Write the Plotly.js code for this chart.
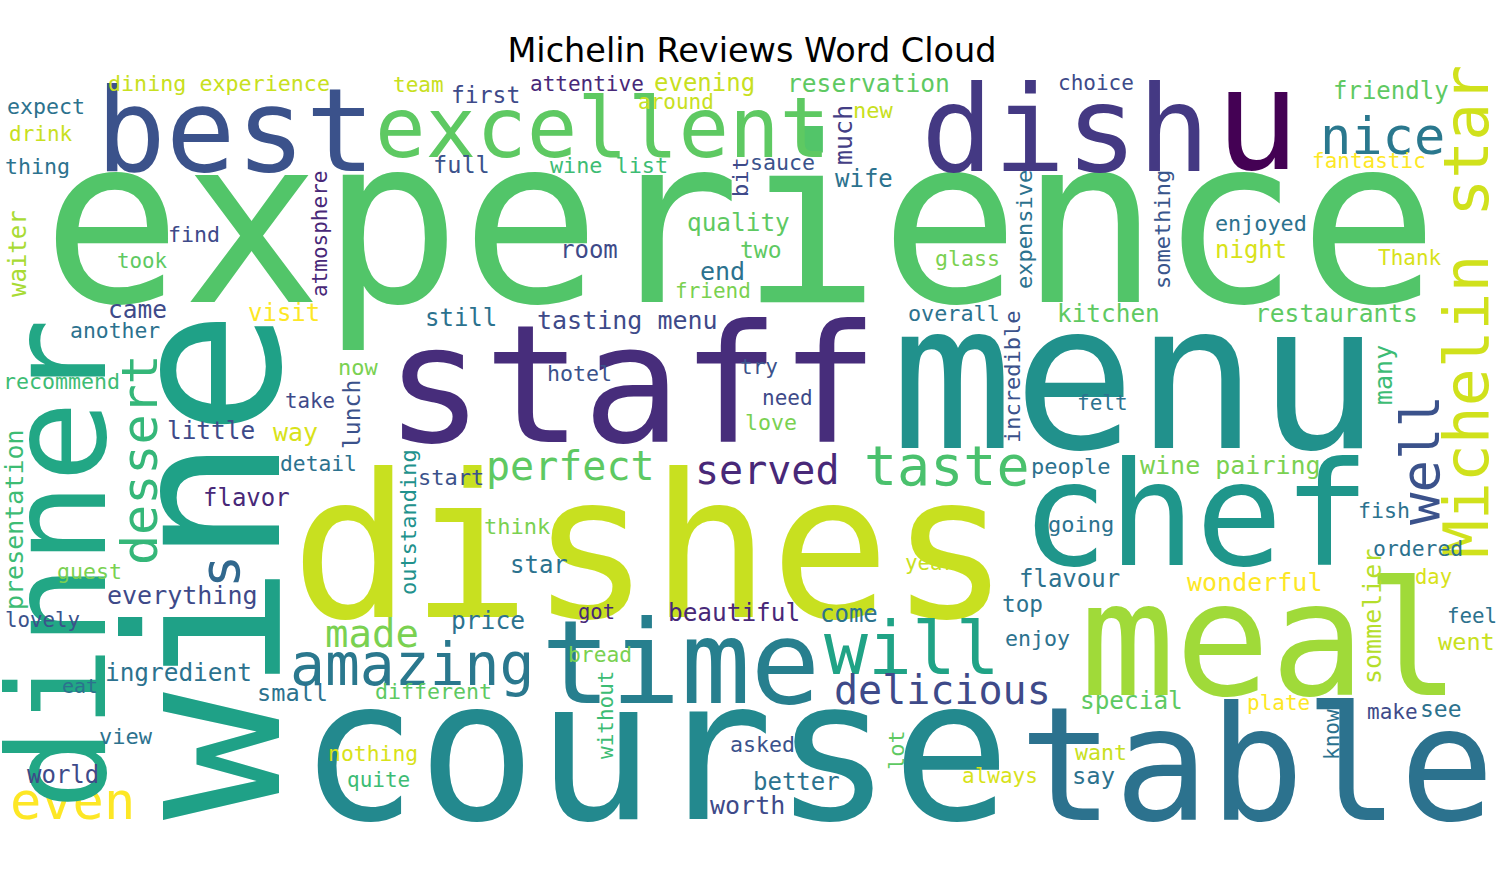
<!DOCTYPE html>
<html>
<head>
<meta charset="utf-8">
<script src="https://cdn.plot.ly/plotly-3.0.1.min.js"></script>
<style>body{margin:0;background:#fff}#chart{width:1504px;height:894px}</style>
</head>
<body>
<div id="chart"></div>
<script>
// word cloud: word, centre x, centre y (pixels), font size, angle, colour
const words = ['experience','staff','menu','dishes','course','table','meal','chef','time','dish','u','best','excellent','nice','will','amazing','delicious','perfect','served','taste','made','even','tasting menu',
  'wine','dinner','dessert','s','Michelin star','well','much','atmosphere','waiter','presentation','lunch','outstanding','bit','expensive','something','incredible','many','sommelier','without','lot','know',
  'dining experience','team','first','attentive','evening','around','reservation','choice','new','friendly','expect','drink','thing','full','wine list','sauce','wife','fantastic','find','took','quality','two','room','end','friend','enjoyed','night','glass','Thank','came','another','visit','still','overall','kitchen','restaurants','recommend','now','hotel','try','need','love','take','little','way','felt','detail','start','people','wine pairing','flavor','think','going','fish','ordered','star','year','guest','everything','flavour','wonderful','day','lovely','price','got','beautiful','come','top','feel','enjoy','went','bread','ingredient','eat','small','different','special','plate','make','see','view','asked','nothing','want','world','quite','better','always','say','worth'];
const xs = [740,632,1135,650,655,1257,1270,1195,680,1065,1257,235,602,1382,912,412,942,570,767,947,372,72,627,
  205,58,140,220,1466,1420,843,320,18,14,352,408,740,1024,1162,1012,1383,1372,606,896,1332,
  219,418,485,587,704,676,868,1096,873,1391,46,41,37,461,609,782,864,1369,194,142,738,761,589,722,713,1261,1251,967,1410,137,115,284,461,954,1108,1336,61,358,579,759,787,771,310,211,295,1102,318,451,1070,1230,246,517,1081,1384,1418,539,930,89,182,1069,1254,1433,42,488,596,734,849,1022,1472,1037,1466,600,178,80,292,433,1131,1278,1392,1441,126,762,373,1101,63,378,796,1000,1093,747];
const ys = [222,385,378,548,750,765,640,514,662,129,120,130,128,136,648,665,690,466,470,466,633,801,320,
  565,565,460,572,312,460,135,234,254,520,415,522,177,230,230,377,375,617,715,750,735,
  83,85,95,84,83,102,83,83,110,91,106,134,166,165,165,162,179,161,234,261,222,250,250,271,291,223,250,258,258,309,330,313,318,313,313,313,381,367,373,367,398,422,401,430,432,403,463,477,466,465,498,526,524,510,548,565,563,571,595,579,582,577,620,620,612,612,614,604,616,638,642,654,672,686,693,691,700,703,712,709,736,744,753,752,775,780,782,776,776,805];
const sizes = [232,164,203,199,197,158,158,145,116,120,141,116,84,52,73,58,40,40,40,55,39,52,25,
  212,136,50,55,63,54,25,21,24,25,23,22,22,22,22,22,25,25,21,22,21,
  21.7,21,23,21,24,21,24.6,21,22,24,21.6,21,21.6,23.6,21.8,21.6,24,21,21.6,20.8,24.4,23,24,25,21,21.8,24,21.6,21,24.5,21.4,24,24,21.8,24.4,24.6,21.6,22,21.6,21,21,21.6,20.8,24.4,25,21,21.3,22,22,25,24,22,22,21.6,21.4,24,20.8,21.6,25,24,25,20.5,20.8,24.6,20.5,24.4,24,22.7,20.8,21.6,23.6,21.3,24.4,20,23.6,21.6,24.4,21,21,23,22,21.6,21.4,21.6,24,21,24,21,23.8,25];
const angles = [0,0,0,0,0,0,0,0,0,0,0,0,0,0,0,0,0,0,0,0,0,0,0,
  -90,-90,-90,-90,-90,-90,-90,-90,-90,-90,-90,-90,-90,-90,-90,-90,-90,-90,-90,-90,-90];
const colors = ['#52c569','#472d7b','#21918c','#c8e020','#23898e','#2c728e','#a0da39','#1f968b','#277f8e','#443983','#440154','#3b528b','#5ec962','#2a788e','#20a386','#2a788e','#3e4a89','#5ec962','#482878','#4ac16d','#7ad151','#fde725','#3e4a89',
  '#1fa187','#22a785','#35b779','#31688e','#d0e11c','#3b528b','#433e85','#482878','#a8db34','#3dbc74','#3b528b','#21918c','#3e4a89','#2c728e','#39568c','#3b528b','#3dbc74','#b5de2b','#3dbc74','#5ec962','#2c728e',
  '#c8e020','#c8e020','#3e4a89','#482878','#c8e020','#c8e020','#5ec962','#3e4a89','#c8e020','#5ec962','#2c728e','#c8e020','#2c728e','#3b528b','#3dbc74','#3b528b','#2c728e','#fde725','#3e4a89','#5ec962','#5ec962','#5ec962','#3e4a89','#2c728e','#7ad151','#2c728e','#d8e219','#7ad151','#d8e219','#3e4a89','#2c728e','#fde725','#2c728e','#2c728e','#5ec962','#5ec962','#3dbc74','#7ad151','#3b528b','#3b528b','#3e4a89','#7ad151','#3e4a89','#3e4a89','#d8e219','#2c728e','#2c728e','#3b528b','#2c728e','#7ad151','#482878','#7ad151','#2c728e','#2c728e','#2c728e','#2c728e','#c8e020','#7ad151','#3e4a89','#2c728e','#fde725','#d8e219','#3b528b','#2c728e','#482878','#482878','#2c728e','#2c728e','#2c728e','#2c728e','#c8e020','#7ad151','#2c728e','#2c728e','#2c728e','#5ec962','#5ec962','#fde725','#3e4a89','#2c728e','#2c728e','#3b528b','#d8e219','#c8e020','#3e4a89','#3dbc74','#2c728e','#d8e219','#2c728e','#3e4a89'];

const annotations = words.map((w, i) => ({
  text: w, x: xs[i], y: ys[i], xref: 'x', yref: 'y', showarrow: false,
  textangle: angles[i] || 0, xanchor: 'center', yanchor: 'middle',
  font: {family: 'DejaVu Sans Mono', size: sizes[i], color: colors[i]}
}));

Plotly.newPlot('chart', [{x: [0, 1504], y: [0, 894], mode: 'markers', marker: {opacity: 0}, hoverinfo: 'skip'}], {
  width: 1504, height: 894,
  margin: {l: 0, r: 0, t: 0, b: 0},
  paper_bgcolor: '#fff', plot_bgcolor: '#fff',
  showlegend: false,
  title: {text: 'Michelin Reviews Word Cloud', x: 0.5, y: 0.944, xanchor: 'center', yanchor: 'middle',
    font: {family: 'DejaVu Sans', size: 33.5, color: '#000'}},
  xaxis: {range: [0, 1504], visible: false, fixedrange: true},
  yaxis: {range: [894, 0], visible: false, fixedrange: true},
  annotations: annotations
}, {staticPlot: true});
</script>
</body>
</html>
